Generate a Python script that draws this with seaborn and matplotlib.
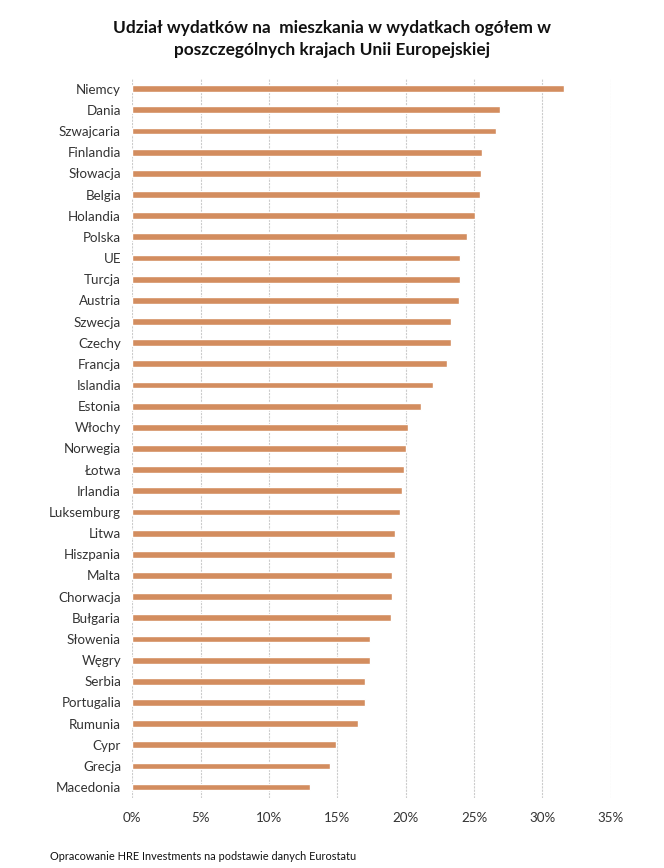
import pandas as pd
import matplotlib
matplotlib.use("Agg")
import matplotlib.pyplot as plt
import seaborn as sns
from matplotlib.ticker import PercentFormatter

# Data (share of housing in total spending, %)
countries = [
    "Niemcy", "Dania", "Szwajcaria", "Finlandia", "Słowacja", "Belgia",
    "Holandia", "Polska", "UE", "Turcja", "Austria", "Szwecja", "Czechy",
    "Francja", "Islandia", "Estonia", "Włochy", "Norwegia", "Łotwa",
    "Irlandia", "Luksemburg", "Litwa", "Hiszpania", "Malta", "Chorwacja",
    "Bułgaria", "Słowenia", "Węgry", "Serbia", "Portugalia", "Rumunia",
    "Cypr", "Grecja", "Macedonia",
]
shares = [
    31.6, 26.9, 26.6, 25.6, 25.5, 25.4,
    25.1, 24.5, 24.0, 24.0, 23.9, 23.3, 23.3,
    23.0, 22.0, 21.1, 20.2, 20.05, 19.9,
    19.7, 19.6, 19.2, 19.2, 19.0, 19.0,
    18.95, 17.4, 17.4, 17.0, 17.0, 16.5,
    14.9, 14.5, 13.0,
]
x_ticks = [0, 5, 10, 15, 20, 25, 30, 35]

title = "Udział wydatków na  mieszkania w wydatkach ogółem w\nposzczególnych krajach Unii Europejskiej"
source = "Opracowanie HRE Investments na podstawie danych Eurostatu"

df = pd.DataFrame({"kraj": countries, "udzial": shares})

sns.set_theme(style="white")
plt.rcParams["font.family"] = ["Lato", "DejaVu Sans"]

fig = plt.figure(figsize=(6.64, 8.68), dpi=100)
ax = fig.add_axes([0.199, 0.081, 0.721, 0.829])

sns.barplot(data=df, x="udzial", y="kraj", color="#D38D5F", width=0.32,
            saturation=1, ax=ax, zorder=3)

ax.set_xlim(0, 35)
ax.set_xticks(x_ticks)
ax.xaxis.set_major_formatter(PercentFormatter(decimals=0))
ax.grid(axis="x", color="#cccccc", linewidth=0.8, linestyle=(0, (2, 1)), zorder=0)
ax.grid(axis="y", visible=False)
for s in ax.spines.values():
    s.set_visible(False)
ax.tick_params(axis="both", length=0, labelsize=9.6, colors="#333333")
ax.tick_params(axis="x", pad=10)
ax.tick_params(axis="y", pad=8)
ax.set_xlabel("")
ax.set_ylabel("")

fig.text(0.5, 0.955, title, ha="center", va="center", fontsize=12.4,
         fontweight="bold", color="#111111", linespacing=1.4)
fig.text(0.075, 0.013, source, ha="left", va="center", fontsize=7.9,
         color="#111111")

fig.savefig("out.png", dpi=100)
plt.close(fig)
